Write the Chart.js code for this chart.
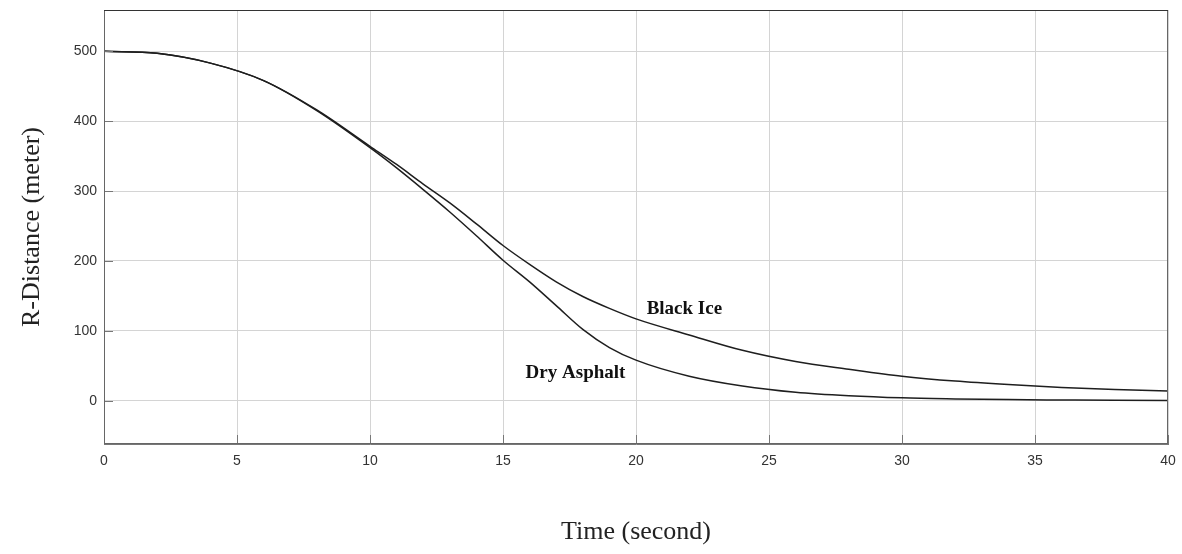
<!DOCTYPE html>
<html>
<head>
<meta charset="utf-8">
<script src="https://cdn.jsdelivr.net/npm/chart.js@4/dist/chart.umd.min.js"></script>
<style>
  html, body { margin: 0; padding: 0; background: #fff; }
  #wrap { width: 1182px; height: 554px; }
</style>
</head>
<body>
<div id="wrap"><canvas id="distance"></canvas></div>
<script>
const times = [0, 2, 4, 6, 8, 10, 11, 12, 13, 14, 15, 16, 17, 18, 19, 20, 22, 24, 26, 28, 30, 32, 34, 36, 38, 40];
const dryAsphalt = [500, 497, 483, 458, 415, 362, 333, 302, 270, 236, 201, 170, 136, 102, 76, 58, 35, 21, 12, 7, 4, 2.5, 1.5, 1, 0.5, 0.3];
const blackIce = [500, 497, 483, 458, 416, 364, 338, 310, 283, 253, 222, 195, 170, 149, 132, 117, 94, 72, 56, 45, 35, 28, 23, 19, 16, 14];
const xTicks = [0, 5, 10, 15, 20, 25, 30, 35, 40];
const yTicks = [0, 100, 200, 300, 400, 500];
const curveLabels = [
  { text: 'Black Ice', x: 20.4, y: 124 },
  { text: 'Dry Asphalt', x: 15.85, y: 32 }
];

const toPoints = vals => times.map((t, i) => ({ x: t, y: vals[i] }));

// frame, inward tick marks and the curve names
const decor = {
  id: 'decor',
  afterDraw(chart) {
    const { ctx, chartArea: a, scales } = chart;
    ctx.save();
    ctx.strokeStyle = '#777';
    ctx.lineWidth = 1;
    ctx.beginPath();
    yTicks.forEach(v => {
      const py = Math.round(scales.y.getPixelForValue(v)) + 0.5;
      ctx.moveTo(a.left, py); ctx.lineTo(a.left + 9, py);
    });
    xTicks.forEach(v => {
      const px = Math.round(scales.x.getPixelForValue(v)) + 0.5;
      ctx.moveTo(px, a.bottom); ctx.lineTo(px, a.bottom - 9);
    });
    ctx.stroke();
    ctx.strokeStyle = '#666';
    ctx.strokeRect(a.left + 0.5, a.top + 0.5, a.right - a.left - 1, a.bottom - a.top - 1);
    ctx.strokeStyle = '#333';
    ctx.beginPath();
    ctx.moveTo(a.left, a.top + 0.5); ctx.lineTo(a.right, a.top + 0.5);
    ctx.stroke();
    ctx.fillStyle = '#111';
    ctx.font = 'bold 19px "Liberation Serif", "Times New Roman", serif';
    ctx.textBaseline = 'alphabetic';
    curveLabels.forEach(l => {
      ctx.fillText(l.text, scales.x.getPixelForValue(l.x), scales.y.getPixelForValue(l.y));
    });
    ctx.restore();
  }
};

new Chart(document.getElementById('distance'), {
  type: 'line',
  data: {
    datasets: [{
      label: 'Dry Asphalt',
      data: toPoints(dryAsphalt),
      borderColor: '#1e1e1e',
      borderWidth: 1.5,
      pointRadius: 0,
      cubicInterpolationMode: 'monotone'
    }, {
      label: 'Black Ice',
      data: toPoints(blackIce),
      borderColor: '#1e1e1e',
      borderWidth: 1.5,
      pointRadius: 0,
      cubicInterpolationMode: 'monotone'
    }]
  },
  options: {
    responsive: true,
    maintainAspectRatio: false,
    animation: false,
    layout: { padding: { top: 10, right: 14, left: 0, bottom: 0 } },
    plugins: { legend: { display: false }, tooltip: { enabled: false } },
    scales: {
      x: {
        type: 'linear',
        min: 0,
        max: 40,
        afterBuildTicks: s => { s.ticks = xTicks.map(v => ({ value: v })); },
        afterFit: s => { s.height = 110; s.paddingLeft = 0; s.paddingRight = 0; },
        grid: { color: '#d4d4d4', drawTicks: false },
        border: { color: '#777' },
        ticks: {
          padding: 9,
          color: '#333',
          font: { family: '"Liberation Sans", Arial, sans-serif', size: 14 }
        },
        title: {
          display: true,
          text: 'Time (second)',
          color: '#222',
          padding: { top: 0, bottom: 6 },
          font: { family: '"Liberation Serif", "Times New Roman", serif', size: 26 }
        }
      },
      y: {
        type: 'linear',
        min: -62,
        max: 559,
        afterBuildTicks: s => { s.ticks = yTicks.map(v => ({ value: v })); },
        afterFit: s => { s.width = 104; s.paddingTop = 0; s.paddingBottom = 0; },
        grid: { color: '#d4d4d4', drawTicks: false },
        border: { color: '#777' },
        ticks: {
          padding: 7,
          color: '#333',
          font: { family: '"Liberation Sans", Arial, sans-serif', size: 14 }
        },
        title: {
          display: true,
          text: 'R-Distance (meter)',
          color: '#222',
          padding: { top: 17, bottom: 0 },
          font: { family: '"Liberation Serif", "Times New Roman", serif', size: 26 }
        }
      }
    }
  },
  plugins: [decor]
});
</script>
</body>
</html>
